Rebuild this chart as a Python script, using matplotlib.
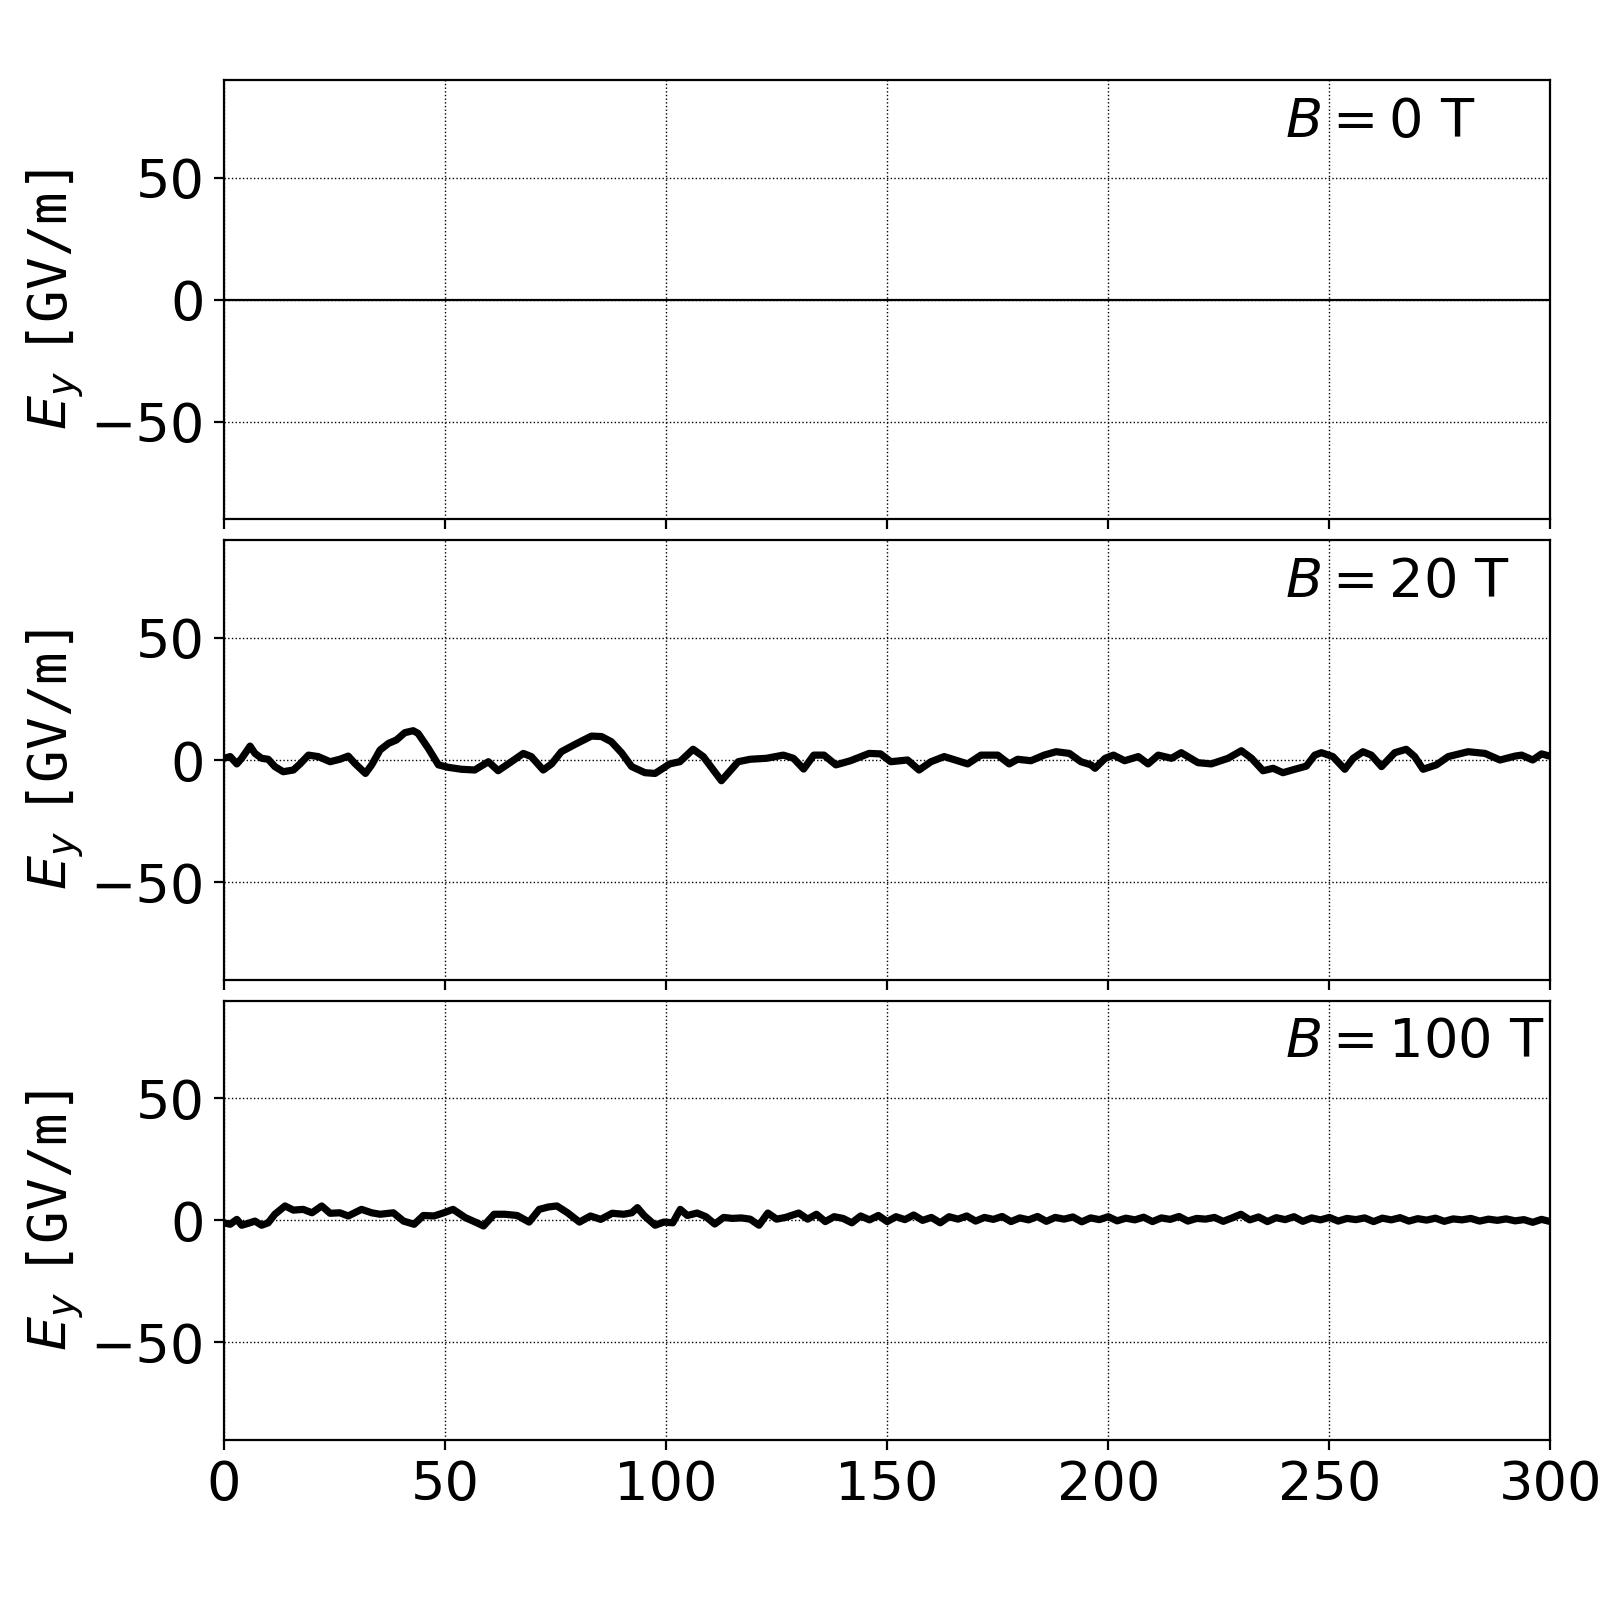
import numpy as np
import matplotlib
matplotlib.use('Agg')
import matplotlib.pyplot as plt

plt.rcParams['font.size'] = 19.5
plt.rcParams['mathtext.fontset'] = 'dejavusans'

# E_y traces (x in same units as axis, E_y in GV/m)
x_b20 = [0, 1.4, 2.9, 4, 5.9, 7, 8.5, 10, 11.5, 13.4, 15.7, 17.2, 19.1, 21.3, 24, 26.2,
         28.1, 29.6, 32, 33.4, 35.3, 37.2, 39, 40.9, 42.8, 43.9, 46.2, 48.5, 50.7, 53.7,
         56.7, 59.8, 62, 65, 67.7, 69.5, 72.2, 74.1, 76.3, 79.4, 83.1, 85.4, 87.6, 89.9,
         92.2, 95.2, 97.5, 99.3, 100.8, 103.1, 106.1, 108.4, 112.5, 116.3, 119, 122.7,
         126.5, 128.8, 131.1, 133.4, 135.7, 138.4, 141.7, 145.9, 148.5, 150.8, 154.6,
         157.2, 159.9, 162.9, 168.2, 171.2, 175, 177.6, 179.5, 182.5, 185.5, 188.2, 191.2,
         193.8, 196.1, 197, 199.3, 201.2, 203.7, 206.8, 209, 211.3, 214.3, 216.5, 220.3,
         223.3, 227.1, 230.1, 232.4, 235, 237.3, 239.5, 242.2, 244.8, 246.7, 248.2, 250.8,
         253.5, 255.4, 257.6, 259.5, 261.8, 264.8, 267.4, 269.3, 271.2, 274.2, 276.9,
         281.4, 285.2, 288.6, 292, 293.5, 296, 298, 300]
ey_b20 = [0.7, 1.4, -1.6, 0.7, 5.7, 2.7, 0.7, 0.3, -2.7, -4.8, -4.1, -1.6, 2.0, 1.4, -0.7, 0.3,
          1.6, -1.4, -5.5, -2.0, 4.1, 6.8, 8.2, 11.2, 12.0, 10.9, 4.8, -2.0, -3.0, -3.8,
          -4.1, -0.7, -4.4, -0.7, 2.7, 1.4, -4.1, -1.6, 3.4, 6.4, 9.8, 9.6, 7.5, 3.0,
          -2.7, -5.2, -5.5, -3.4, -1.6, -0.7, 4.4, 1.4, -8.5, -0.7, 0.3, 0.7,
          2.0, 0.7, -3.7, 2.0, 2.0, -2.0, -0.3, 2.7, 2.5, -0.7, 0.0,
          -4.1, -0.7, 1.4, -1.6, 2.0, 2.0, -1.6, 0.3, -0.3, 2.0, 3.4, 2.7,
          -0.7, -2.0, -3.4, 0.7, 2.0, -0.3, 1.4, -1.6, 2.0, 0.7, 3.0, -1.1,
          -1.6, 0.7, 3.8, 0.7, -4.4, -3.4, -5.2, -3.8, -2.5, 2.0, 3.0, 1.4,
          -3.8, 0.7, 3.4, 2.0, -2.7, 3.0, 4.4, 1.4, -3.8, -2.0, 1.4,
          3.4, 2.7, 0.0, 1.6, 2.0, 0.0, 2.5, 1.5]

x_b100 = [0, 1.4, 2.9, 4, 5.5, 7, 8.5, 10, 11.5, 13.8, 15.7, 17.9, 19.9, 22.1, 24, 26.2,
          28.1, 31.1, 33.4, 35.3, 38.3, 40.6, 43, 45.1, 47.5, 49.7, 51.8, 54.6, 57.2,
          58.7, 61.1, 63.5, 66.3, 69, 71.3, 73.4, 75.3, 77.7, 80.4, 82.9, 85.2, 87.8,
          90.4, 92.2, 93.5, 95, 97.5, 99.5, 101.5, 103.2, 104.8, 107, 109, 111, 113, 115,
          117, 119, 121, 123, 125, 127, 130, 132, 134, 136, 138, 140, 142, 144, 146, 148,
          150, 152, 154, 156, 158, 160, 162, 164, 166, 168, 170, 172, 174, 176, 178, 180,
          182, 184, 186, 188, 190, 192, 194, 196, 198, 200, 202, 204, 206, 208, 210, 212,
          214, 216, 218, 220, 222, 224, 226, 228, 230, 232, 234, 236, 238, 240, 242, 244,
          246, 248, 250, 252, 254, 256, 258, 260, 262, 264, 266, 268, 270, 272, 274, 276,
          278, 280, 282, 284, 286, 288, 290, 292, 294, 296, 298, 300]
ey_b100 = [-1.0, -1.6, 0.4, -2.0, -1.2, -0.3, -2.0, -1.0, 2.5, 5.9, 4.2, 4.5, 3.1, 5.9, 2.9, 3.1,
           1.8, 4.5, 3.1, 2.5, 3.1, -0.3, -1.6, 2.0, 1.8, 3.1, 4.5, 1.1, -1.0,
           -2.3, 2.5, 2.5, 2.0, -0.7, 4.5, 5.5, 5.9, 3.1, -0.7, 1.8, 0.4, 2.9,
           2.5, 3.1, 5.2, 2.0, -2.0, -0.7, -1.0, 4.5, 2.0, 3.0, 1.5, -1.5, 1.2, 0.8,
           1.0, 0.5, -2.0, 3.0, 0.5, 1.2, 3.0, 0.5, 2.5, -0.5, 1.5, 0.8, -1.0, 1.8, 0.2, 2.0,
           -0.5, 1.5, 0.3, 2.2, 0.0, 1.2, -1.0, 1.5, 0.5, 1.8, -0.3, 1.2, 0.4, 1.6, -0.5, 1.0,
           0.2, 1.6, -0.4, 1.2, 0.5, 1.4, -0.6, 1.0, 0.3, 1.5, -0.2, 0.9, 0.2, 1.3, -0.5, 1.0,
           0.4, 1.6, -0.3, 0.8, 0.5, 1.2, -0.4, 1.0, 2.5, 0.2, 1.4, -0.5, 1.1, 0.3, 1.5, -0.4,
           1.0, 0.2, 1.2, -0.3, 0.8, 0.3, 1.0, -0.5, 0.9, 0.2, 1.1, -0.3, 0.7, 0.1, 0.9, -0.4,
           0.6, 0.2, 0.8, -0.3, 0.5, 0.0, 0.6, -0.2, 0.3, -0.8, 0.4, -0.5]

x_b0 = [0, 300]
ey_b0 = [0, 0]

panels = [(x_b0, ey_b0, r'$B = 0$ T', 0.8),
          (x_b20, ey_b20, r'$B = 20$ T', 2.6),
          (x_b100, ey_b100, r'$B = 100$ T', 2.6)]

fig, axes = plt.subplots(3, 1, figsize=(8, 8), dpi=200, sharex=True)
fig.subplots_adjust(left=0.14, right=0.969, bottom=0.10, top=0.95, hspace=0.048)

for ax, (xs, ys, lab, lw) in zip(axes, panels):
    ax.plot(xs, ys, color='k', lw=lw)
    ax.set_xlim(0, 300)
    ax.set_ylim(-90, 90)
    ax.set_yticks([-50, 0, 50])
    ax.set_xticks([0, 50, 100, 150, 200, 250, 300])
    ax.grid(True, color='k', ls=':', lw=0.5)
    ax.set_ylabel(r'$E_y$ $\mathtt{[GV/m]}$', labelpad=1)
    ax.text(0.80, 0.905, lab, transform=ax.transAxes, ha='left', va='center')

plt.savefig('out.png')
